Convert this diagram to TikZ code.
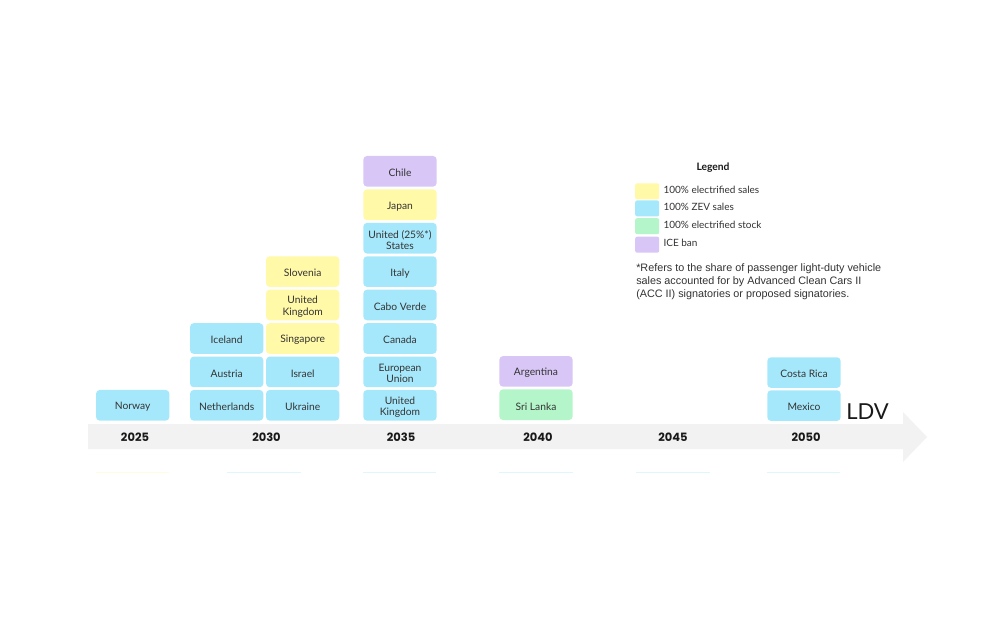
\documentclass[tikz,border=0pt]{standalone}
\usepackage{fontspec}
\setmainfont{Lato}
\newfontfamily\yearfont{Poppins}
\newfontfamily\notefont{Liberation Sans}
\definecolor{cyel}{HTML}{FFF9A8}
\definecolor{cblue}{HTML}{A6E8FB}
\definecolor{cgreen}{HTML}{B4F6C9}
\definecolor{cpurp}{HTML}{D8C7F6}
\definecolor{band}{HTML}{F2F2F2}
\definecolor{txt}{HTML}{333333}
\tikzset{
  cbox/.style={rounded corners=2.8pt, minimum width=55pt, minimum height=23pt,
    inner sep=0pt},
  boxtext/.style={inner sep=0pt, align=center, text=txt, font=\fontsize{7.7}{8.6}\selectfont},
  yel/.style={cbox, fill=cyel},
  blu/.style={cbox, fill=cblue},
  grn/.style={cbox, fill=cgreen},
  pur/.style={cbox, fill=cpurp},
  year/.style={font=\yearfont\bfseries\fontsize{8.6}{10}\selectfont, text=black!90},
  swatch/.style={rounded corners=1.5pt, minimum width=18pt, minimum height=12pt, inner sep=0pt},
  legtext/.style={anchor=west, inner sep=0pt, text=txt, font=\fontsize{7.5}{8.5}\selectfont},
  stub/.style={line width=0.6pt, opacity=0.35},
}
\newcommand\cbx[4]{\node[#1] (#2) at (#3) {};
  \node[boxtext] (#2t) at ([yshift=-1.2pt]#2.center) {#4};}
\begin{document}
\begin{tikzpicture}[x=0.75pt,y=-0.75pt]
\useasboundingbox (0,0) rectangle (1000,620);
\fill[white] (0,0) rectangle (1000,620);
% timeline arrow
\fill[band] (88,424) -- (903,424) -- (903,412) -- (927,437) -- (903,462) -- (903,449) -- (88,449) -- cycle;
% years
\node[year] (y2025) at (135,437) {2025};
\node[year] (y2030) at (266.5,437) {2030};
\node[year] (y2035) at (401,437) {2035};
\node[year] (y2040) at (538,437) {2040};
\node[year] (y2045) at (673,437) {2045};
\node[year] (y2050) at (806,437) {2050};
% 2025
\cbx{blu}{norway}{132.7,405.3}{Norway}
% 2030 left
\cbx{blu}{neth}{226.7,405.3}{Netherlands}
\cbx{blu}{austria}{226.7,371.9}{Austria}
\cbx{blu}{iceland}{226.7,338.5}{Iceland}
% 2030 right
\cbx{blu}{ukraine}{302.7,405.3}{Ukraine}
\cbx{blu}{israel}{302.7,371.9}{Israel}
\cbx{yel}{singapore}{302.7,338.5}{Singapore}
\cbx{yel}{uk30}{302.7,305.0}{United\\Kingdom}
\cbx{yel}{slovenia}{302.7,271.6}{Slovenia}
% 2035
\cbx{blu}{uk35}{400,405.3}{United\\Kingdom}
\cbx{blu}{eu}{400,371.9}{European\\Union}
\cbx{blu}{canada}{400,338.5}{Canada}
\cbx{blu}{cabo}{400,305.0}{Cabo Verde}
\cbx{blu}{italy}{400,271.6}{Italy}
\cbx{blu}{us}{400,238.2}{United (25\%*)\\States}
\cbx{yel}{japan}{400,204.7}{Japan}
\cbx{pur}{chile}{400,171.3}{Chile}
% 2040
\cbx{grn}{srilanka}{536,404.7}{Sri Lanka}
\cbx{pur}{argentina}{536,371.4}{Argentina}
% 2050
\cbx{blu}{mexico}{804,405.6}{Mexico}
\cbx{blu}{costarica}{804,372.6}{Costa Rica}
% LDV label
\node[anchor=south west, inner sep=0pt, font=\fontsize{16.5}{18}\selectfont, text=black!90] (ldv) at (846,419.5) {LDV};
% cut-off stubs of the section below
\draw[stub, cyel] (96,472) -- (169,472);
\draw[stub, cblue] (227,472) -- (301,472);
\draw[stub, cblue] (363,472) -- (436,472);
\draw[stub, cblue] (499,472) -- (573,472);
\draw[stub, cblue] (636,472) -- (710,472);
\draw[stub, cblue] (767,472) -- (840,472);
% legend
\node[font=\bfseries\fontsize{7.7}{9}\selectfont, text=black!90] (legend) at (713,168) {Legend};
\node[swatch, fill=cyel] (sw1) at (647.2,191.3) {};
\node[swatch, fill=cblue] (sw2) at (647.2,208.4) {};
\node[swatch, fill=cgreen] (sw3) at (647.2,226.2) {};
\node[swatch, fill=cpurp] (sw4) at (647.2,244.7) {};
\node[legtext] (l1) at (663.3,190) {100\% electrified sales};
\node[legtext] (l2) at (663.3,206.7) {100\% ZEV sales};
\node[legtext] (l3) at (663.3,225) {100\% electrified stock};
\node[legtext] (l4) at (663.3,243.3) {ICE ban};
\node[anchor=north west, inner sep=0pt, align=left, text=txt,
  font=\notefont\fontsize{8.1}{9.8}\selectfont] (note) at (636,263)
  {*Refers to the share of passenger light-duty vehicle\\
   sales accounted for by Advanced Clean Cars II\\
   (ACC II) signatories or proposed signatories.};
\end{tikzpicture}
\end{document}
